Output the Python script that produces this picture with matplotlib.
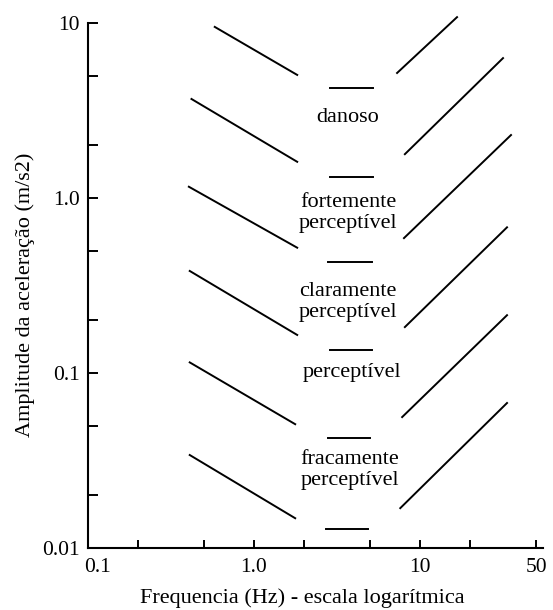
import matplotlib
matplotlib.use("Agg")
import matplotlib.pyplot as plt
from matplotlib.ticker import FixedLocator, NullFormatter
from matplotlib.transforms import ScaledTranslation

plt.rcParams['font.family'] = ['Liberation Serif', 'DejaVu Serif']

# descending lines on the left (freq start/end, accel start/end)
left_f0 = [0.58, 0.42, 0.405, 0.41, 0.41, 0.41]
left_f1 = [1.82, 1.82, 1.82, 1.82, 1.77, 1.77]
left_a0 = [9.5, 3.68, 1.16, 0.383, 0.115, 0.034]
left_a1 = [5.05, 1.61, 0.52, 0.165, 0.051, 0.0148]

# short horizontal lines in the middle
mid_f0 = [2.87, 2.87, 2.79, 2.87, 2.79, 2.72]
mid_f1 = [5.2, 5.2, 5.14, 5.14, 5.0, 4.86]
mid_a = [4.25, 1.32, 0.43, 0.135, 0.0425, 0.0128]

# ascending lines on the right
right_f0 = [7.27, 8.1, 8.0, 8.1, 7.8, 7.6]
right_f1 = [16.7, 31.6, 35.3, 33.4, 33.4, 33.4]
right_a0 = [5.18, 1.78, 0.59, 0.183, 0.056, 0.0169]
right_a1 = [10.8, 6.3, 2.29, 0.68, 0.214, 0.0674]

# zone labels
zone_text = ['danoso', 'fortemente\nperceptível', 'claramente\nperceptível',
             'perceptível', 'fracamente\nperceptível']
zone_f = [3.68, 3.68, 3.68, 3.89, 3.79]
zone_a = [2.9, 0.82, 0.255, 0.101, 0.0279]

xticks = [0.1, 1.0, 10, 50]
xtick_labels = ['0.1', '1.0', '10', '50']
xminor = [0.2, 0.5, 2, 5, 20]
yticks = [0.01, 0.1, 1.0, 10]
ytick_labels = ['0.01', '0.1', '1.0', '10']
yminor = [0.02, 0.05, 0.2, 0.5, 2, 5]

fig = plt.figure(figsize=(5.53, 6.10), dpi=100)
ax = fig.add_axes([0.1591, 0.1016, 0.8228, 0.8607])
ax.set_xscale('log')
ax.set_yscale('log')

lw = 1.4
for i in range(len(left_f0)):
    ax.plot([left_f0[i], left_f1[i]], [left_a0[i], left_a1[i]], c='k', lw=lw, clip_on=False)
    ax.plot([mid_f0[i], mid_f1[i]], [mid_a[i], mid_a[i]], c='k', lw=lw, clip_on=False)
    ax.plot([right_f0[i], right_f1[i]], [right_a0[i], right_a1[i]], c='k', lw=lw, clip_on=False)

for t, f, a in zip(zone_text, zone_f, zone_a):
    ax.text(f, a, t, ha='center', va='center', fontsize=16, linespacing=1.1)

ax.set_xlim(0.1, 55)
ax.set_ylim(0.01, 10)

ax.xaxis.set_major_locator(FixedLocator(xticks))
ax.set_xticklabels(xtick_labels)
ax.xaxis.set_minor_locator(FixedLocator(xminor))
ax.xaxis.set_minor_formatter(NullFormatter())
ax.yaxis.set_major_locator(FixedLocator(yticks))
ax.set_yticklabels(ytick_labels)
ax.yaxis.set_minor_locator(FixedLocator(yminor))
ax.yaxis.set_minor_formatter(NullFormatter())

ax.tick_params(axis='x', which='both', direction='in', length=6, width=1.4, labelsize=15.5, pad=7)
ax.tick_params(axis='y', which='both', direction='in', length=7, width=1.4, labelsize=15.5, pad=6)

# nudge the 0.1 label off the corner
lab = ax.get_xticklabels()[0]
lab.set_transform(lab.get_transform() + ScaledTranslation(10/100, 0, fig.dpi_scale_trans))

for s in ['top', 'right']:
    ax.spines[s].set_visible(False)
for s in ['left', 'bottom']:
    ax.spines[s].set_linewidth(1.5)

ax.set_xlabel('Frequencia (Hz) - escala logarítmica', fontsize=16)
ax.set_ylabel('Amplitude da aceleração (m/s2)', fontsize=16)
ax.xaxis.set_label_coords((302 - 88) / 455, -(598 - 548) / 525)
ax.yaxis.set_label_coords((25 - 88) / 455, (548 - 295) / 525)
ax.xaxis.label.set_va('center')
ax.yaxis.label.set_va('center')

fig.savefig('out.png', dpi=100)
